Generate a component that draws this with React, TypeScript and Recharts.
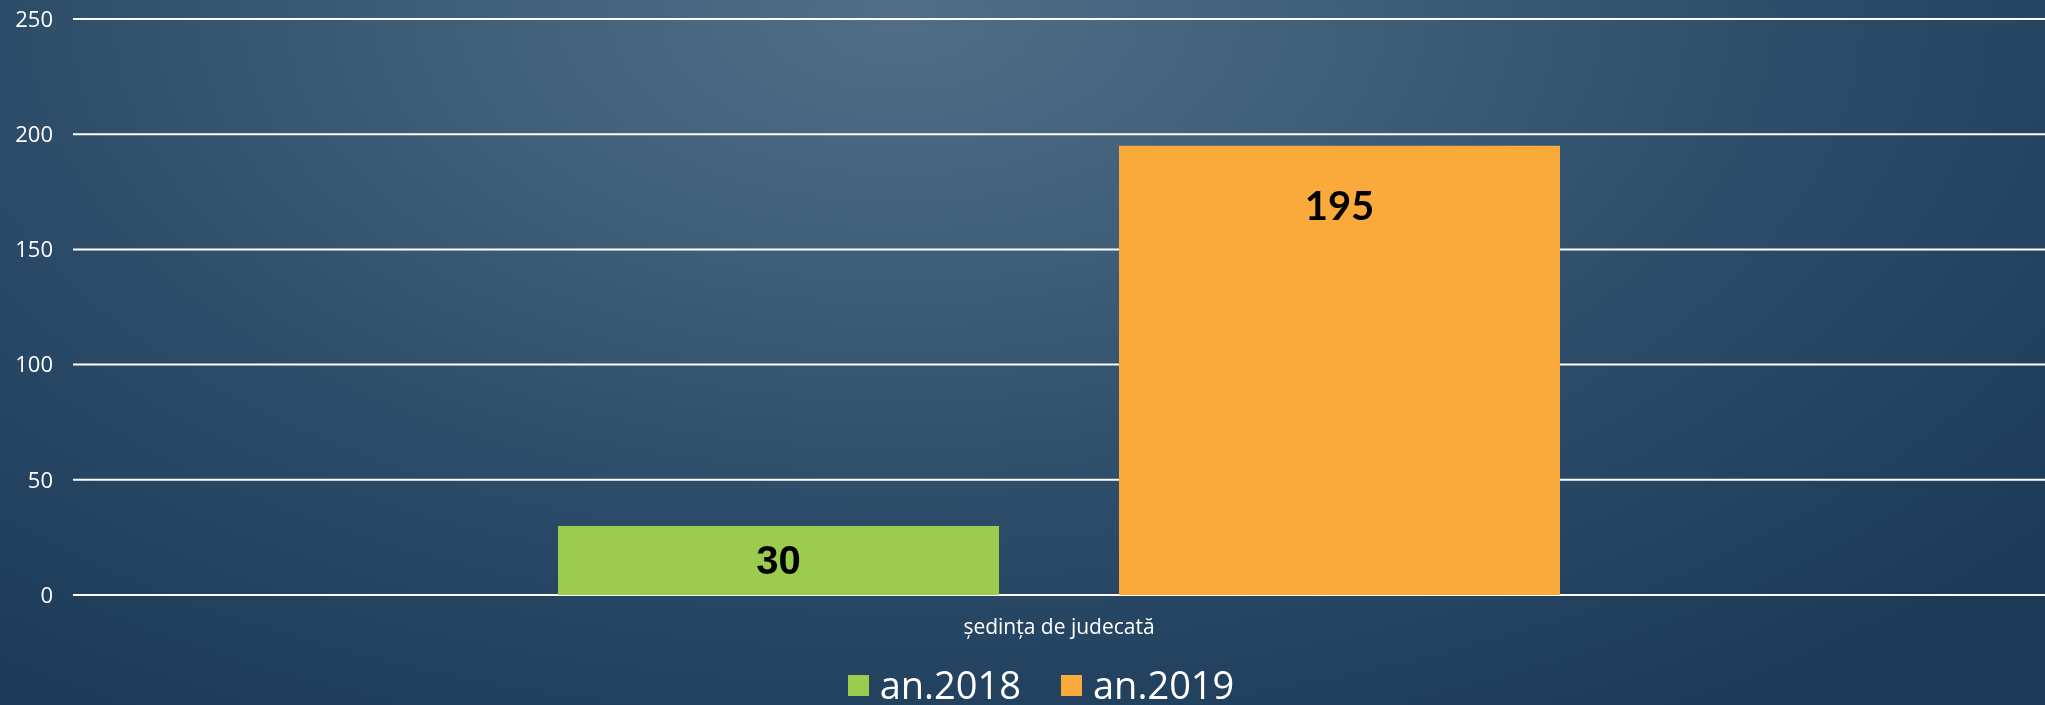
import React from 'react';
import { BarChart, Bar, XAxis, YAxis, CartesianGrid, Legend, LabelList } from 'recharts';

const categories = ['ședința de judecată'];
const values2018 = [30];
const values2019 = [195];
const yTicks = [0, 50, 100, 150, 200, 250];
const seriesNames = ['an.2018', 'an.2019'];
const seriesColors = ['#9BCC4E', '#FAA93B'];

const data = categories.map((c, i) => ({
  category: c,
  y2018: values2018[i],
  y2019: values2019[i],
}));

const FONT = '"Open Sans", "DejaVu Sans", sans-serif';

const renderLegend = () => (
  <div style={{ height: 50, paddingTop: 10, boxSizing: 'border-box', paddingLeft: 37 }}>
    <div style={{ height: 38, display: 'flex', alignItems: 'center', justifyContent: 'center' }}>
      {seriesNames.map((name, i) => (
        <div key={name} style={{ display: 'flex', alignItems: 'center', marginLeft: i === 0 ? 0 : 40 }}>
          <div style={{ width: 21, height: 21, background: seriesColors[i], marginRight: 11, marginTop: 2 }} />
          <span style={{ fontFamily: FONT, fontSize: 38, lineHeight: '38px', color: '#ffffff' }}>{name}</span>
        </div>
      ))}
    </div>
  </div>
);

export default function App() {
  return (
    <div
      style={{
        position: 'fixed',
        left: 0,
        top: 0,
        width: 2045,
        height: 705,
        overflow: 'hidden',
        background:
          'radial-gradient(ellipse 75% 120% at 44% 2%, #516e86 0%, #3f5e78 30%, #2a4a67 62%, #1c3a58 100%)',
      }}
    >
      <BarChart
        width={2045}
        height={705}
        data={data}
        margin={{ top: 19, right: 0, bottom: 0, left: 0 }}
        barCategoryGap={485}
        barGap={120}
      >
        <CartesianGrid vertical={false} stroke="#ffffff" strokeWidth={2} />
        <XAxis
          dataKey="category"
          height={60}
          axisLine={false}
          tickLine={false}
          tickSize={0}
          tickMargin={24}
          tick={{ fill: '#ffffff', fontSize: 21, fontFamily: FONT }}
        />
        <YAxis
          width={73}
          domain={[0, 250]}
          ticks={yTicks}
          axisLine={false}
          tickLine={false}
          tickSize={0}
          tickMargin={20}
          tick={{ fill: '#ffffff', fontSize: 22, fontFamily: FONT }}
        />
        <Legend verticalAlign="bottom" align="center" content={renderLegend} />
        <Bar dataKey="y2018" name={seriesNames[0]} fill={seriesColors[0]} isAnimationActive={false}>
          <LabelList
            dataKey="y2018"
            position="insideTop"
            offset={20}
            fill="#000000"
            fontSize={40}
            fontWeight="bold"
            fontFamily='"Liberation Sans", Arial, sans-serif'
          />
        </Bar>
        <Bar dataKey="y2019" name={seriesNames[1]} fill={seriesColors[1]} isAnimationActive={false}>
          <LabelList
            dataKey="y2019"
            position="insideTop"
            offset={46}
            fill="#000000"
            fontSize={40}
            fontWeight="bold"
            fontFamily='Lato, "Open Sans", sans-serif'
          />
        </Bar>
      </BarChart>
    </div>
  );
}
